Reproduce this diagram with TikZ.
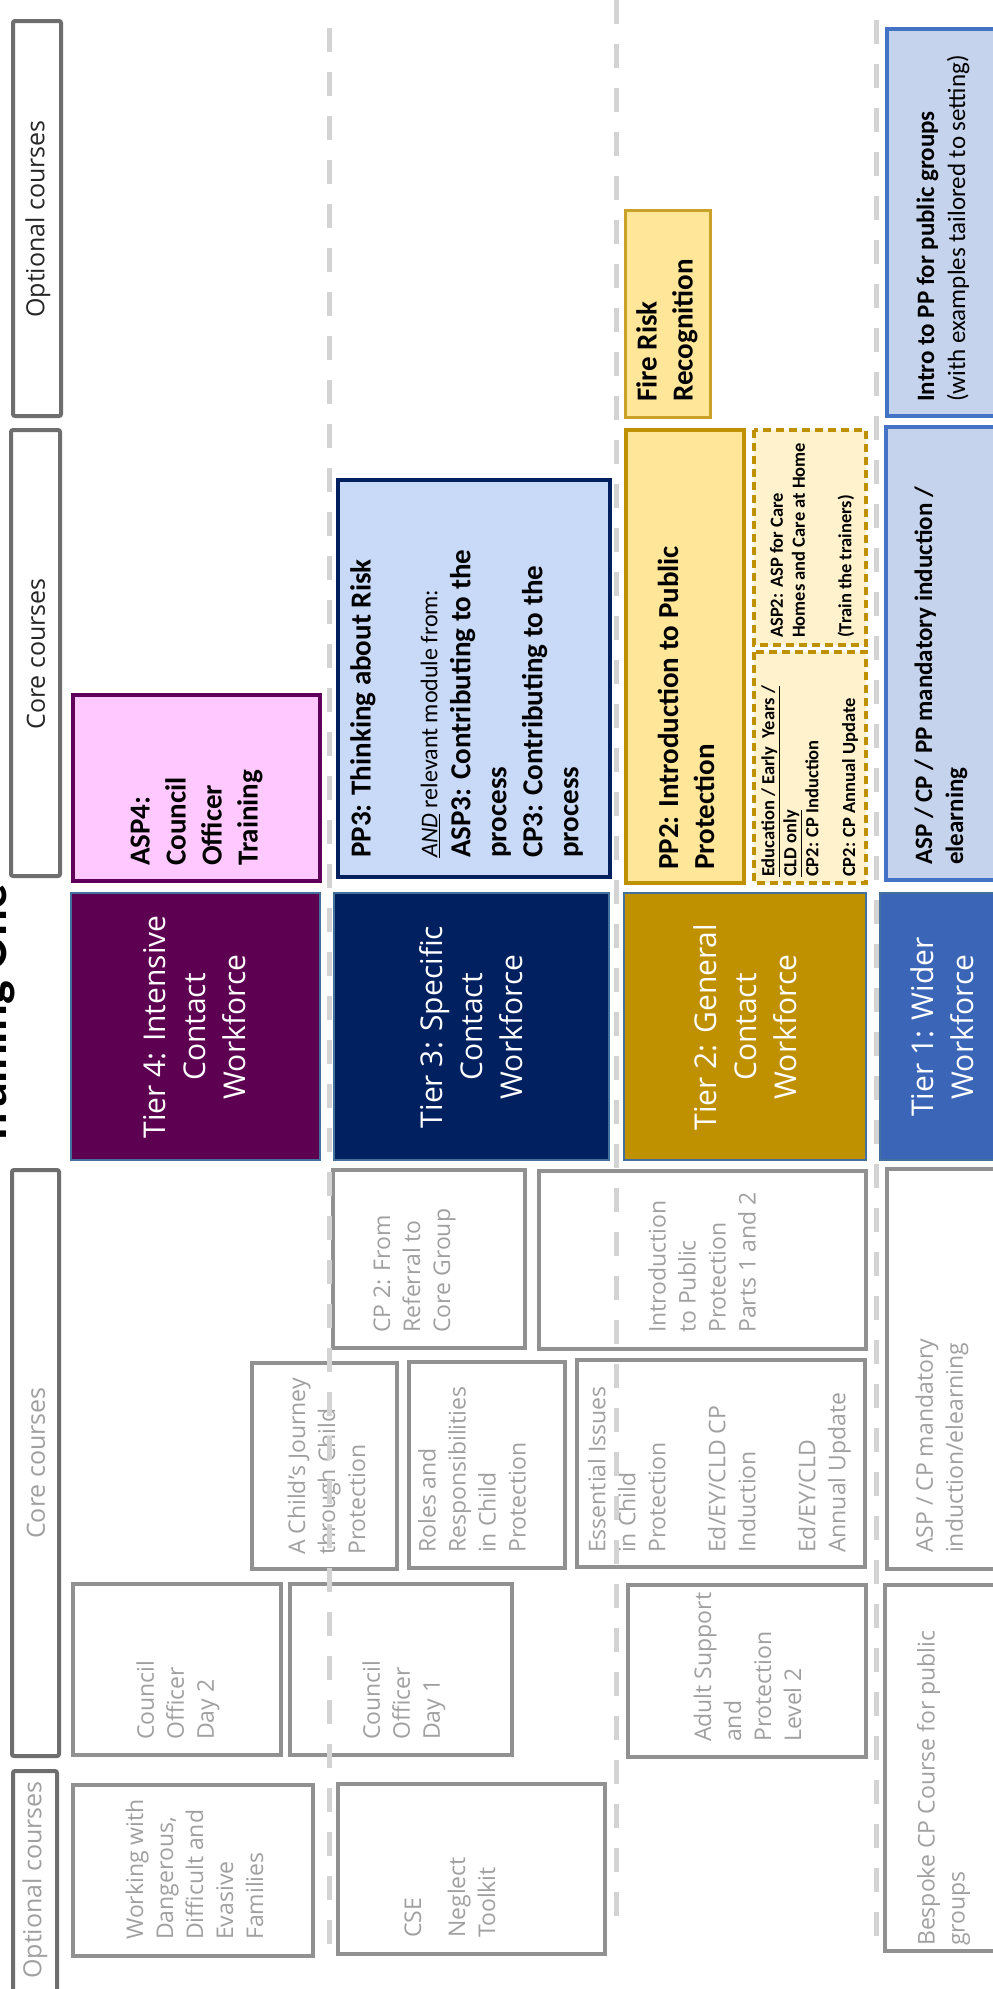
\documentclass[tikz,border=0pt]{standalone}
\usepackage{fontspec}
\setmainfont{Carlito}
\newfontfamily\osans{Open Sans}
\definecolor{hdrborder}{RGB}{110,110,110}
\definecolor{hdrtext}{RGB}{38,38,38}
\definecolor{graybord}{RGB}{145,145,145}
\definecolor{graytext}{RGB}{160,160,160}
\definecolor{dashgray}{RGB}{211,211,211}
\definecolor{tierfour}{RGB}{94,0,82}
\definecolor{tierthree}{RGB}{0,32,96}
\definecolor{tiertwo}{RGB}{191,144,0}
\definecolor{tierone}{RGB}{59,102,184}
\definecolor{tieredge}{RGB}{65,113,156}
\definecolor{pinkfill}{RGB}{255,200,255}
\definecolor{purpedge}{RGB}{96,0,90}
\definecolor{bluefill}{RGB}{201,218,248}
\definecolor{navyedge}{RGB}{0,32,96}
\definecolor{goldfill}{RGB}{255,230,153}
\definecolor{goldedge}{RGB}{191,144,0}
\definecolor{firedge}{RGB}{201,162,39}
\definecolor{paleyellow}{RGB}{255,242,204}
\definecolor{slatefill}{RGB}{197,211,236}
\definecolor{slateedge}{RGB}{68,114,196}
\tikzset{
  hdrbox/.style={draw=hdrborder, line width=4pt, fill=white, rounded corners=2pt},
  crsbox/.style={draw=graybord, line width=4pt, fill=white},
  tierbox/.style={draw=tieredge, line width=1.5pt},
  rtxt/.style={rotate=90, anchor=west, inner sep=0pt, align=left},
  ctxt/.style={rotate=90, anchor=center, inner sep=0pt, align=center},
  hdrfont/.style={font=\osans\fontsize{25}{30}\selectfont},
  grayfont/.style={font=\osans\fontsize{23}{30}\selectfont, text=graytext},
  tierfont/.style={font=\osans\fontsize{30}{40}\selectfont, text=white},
  boldfont/.style={font=\bfseries\fontsize{29}{36}\selectfont},
  midfont/.style={font=\fontsize{25}{31}\selectfont},
  smallfont/.style={font=\bfseries\fontsize{18.5}{22}\selectfont},
  dashline/.style={draw=dashgray, line width=5pt, dash pattern=on 24pt off 20pt},
  smalldash/.style={dash pattern=on 8pt off 5pt}
}
\begin{document}
\begin{tikzpicture}[x=1pt, y=-1pt]
\useasboundingbox (0,0) rectangle (993,1989);
\fill[white] (0,0) rectangle (993,1989);

% header column
\draw[hdrbox] (13,21) rectangle (61,416);
\node[ctxt, hdrfont, text=hdrtext] (hopt) at (38,219) {Optional courses};
\draw[hdrbox] (11,430) rectangle (60,876);
\node[ctxt, hdrfont, text=hdrtext] (hcore) at (36,654) {Core courses};
\node[rotate=90, anchor=base west, inner sep=0pt, font=\bfseries\fontsize{50}{60}\selectfont] (title) at (6,1147) {Training One};
\draw[hdrbox] (12,1170) rectangle (59,1756);
\node[ctxt, hdrfont, text=graytext] (hcoretwo) at (36,1463) {Core courses};
\draw[hdrbox] (13,1771) rectangle (57,2010);
\node[ctxt, hdrfont, text=graytext] (hopttwo) at (35,1880) {Optional courses};

% tiers
\draw[tierbox, fill=tierfour] (71,893) rectangle (320,1160);
\node[ctxt, tierfont] (tfour) at (195,1027) {Tier 4: Intensive\\Contact\\Workforce};
\draw[tierbox, fill=tierthree] (334,893) rectangle (609,1160);
\node[ctxt, tierfont] (tthree) at (471.5,1027) {Tier 3: Specific\\Contact\\Workforce};
\draw[tierbox, fill=tiertwo] (624,893) rectangle (866,1160);
\node[ctxt, tierfont] (ttwo) at (745.5,1027) {Tier 2: General\\Contact\\Workforce};
\draw[tierbox, fill=tierone] (880,893) rectangle (1005,1160);
\node[ctxt, tierfont] (tone) at (942,1027) {Tier 1: Wider\\Workforce};

% core courses (upper)
\draw[draw=purpedge, fill=pinkfill, line width=4pt] (73,695) rectangle (320,881);
\node[rtxt, boldfont] (aspfour) at (196.5,866) {ASP4:\\Council\\Officer\\Training};

\draw[draw=navyedge, fill=bluefill, line width=4pt] (338,480) rectangle (610,877);
\node[rtxt, boldfont] (ppthree) at (363,858) {PP3: Thinking about Risk};
\node[rtxt, font=\fontsize{24}{30}\selectfont] (andline) at (430,858) {\underline{\textit{AND}} relevant module from:};
\node[rtxt, boldfont] (aspthree) at (516.5,858) {ASP3: Contributing to the\\process\\CP3: Contributing to the\\process};

\draw[draw=goldedge, fill=goldfill, line width=4pt] (626,430) rectangle (744,883);
\node[rtxt, boldfont] (pptwo) at (686,870) {PP2: Introduction to Public\\Protection};

\draw[draw=goldedge, fill=paleyellow, line width=3.5pt, smalldash] (754,430) rectangle (866,645);
\node[rtxt, smallfont] (asptwo) at (787.5,638) {ASP2: ASP for Care\\Homes and Care at Home};
\node[rtxt, smallfont] (trainers) at (846,638) {(Train the trainers)};

\draw[draw=goldedge, fill=paleyellow, line width=3.5pt, smalldash] (754,652) rectangle (866,883);
\node[rtxt, smallfont] (edu) at (790,877) {\underline{Education / Early\ \ Years /}\\\underline{CLD only}\\CP2: CP Induction};
\node[rtxt, smallfont] (cpannual) at (850,877) {CP2: CP Annual Update};

\draw[draw=slateedge, fill=slatefill, line width=4pt] (886,427) rectangle (1005,880);
\node[rtxt, midfont, font=\bfseries\fontsize{25}{31}\selectfont] (aspcppp) at (941,865) {ASP / CP / PP mandatory induction /\\elearning};

% optional (upper)
\draw[draw=firedge, fill=goldfill, line width=3pt] (625,210) rectangle (710,417);
\node[rtxt, boldfont] (fire) at (667,402) {Fire Risk\\Recognition};
\draw[draw=slateedge, fill=slatefill, line width=4pt] (887,29) rectangle (1005,416);
\node[rtxt, midfont] (intro) at (943,402) {{\bfseries Intro to PP for public groups}\\(with examples tailored to setting)};

% core courses (lower, grey)
\draw[crsbox] (333,1170) rectangle (525,1348);
\node[rtxt, grayfont] (cpref) at (414.5,1333) {CP 2: From\\Referral to\\Core Group};
\draw[crsbox] (539,1171) rectangle (866,1349);
\node[rtxt, grayfont] (ippr) at (702,1333) {Introduction\\to Public\\Protection\\Parts 1 and 2};
\draw[crsbox] (252,1363) rectangle (397,1569);
\node[rtxt, grayfont] (child) at (326.5,1555) {A Child’s Journey\\through Child\\Protection};
\draw[crsbox] (409,1362) rectangle (565,1568);
\node[rtxt, grayfont] (roles) at (472,1553) {Roles and\\Responsibilities\\in Child\\Protection};
\draw[crsbox] (577,1360) rectangle (865,1567);
\node[rtxt, grayfont] (ess) at (719.5,1553) {Essential Issues\\in Child\\Protection\\[30pt]Ed/EY/CLD CP\\Induction\\[30pt]Ed/EY/CLD\\Annual Update};
\draw[crsbox] (887,1169) rectangle (1005,1569);
\node[rtxt, grayfont] (aspcpm) at (942,1553) {ASP / CP mandatory\\induction/elearning};
\draw[crsbox] (73,1584) rectangle (281,1755);
\node[rtxt, grayfont] (codtwo) at (178,1740) {Council\\Officer\\Day 2};
\draw[crsbox] (290,1584) rectangle (512,1755);
\node[rtxt, grayfont] (codone) at (404,1740) {Council\\Officer\\Day 1};
\draw[crsbox] (628,1585) rectangle (866,1757);
\node[rtxt, grayfont] (adult) at (747.5,1742) {Adult Support\\and\\Protection\\Level 2};

% optional (lower, grey)
\draw[crsbox] (73,1785) rectangle (313,1956);
\node[rtxt, grayfont] (work) at (194.5,1940) {Working with\\Dangerous,\\Difficult and\\Evasive\\Families};
\draw[crsbox] (338,1784) rectangle (605,1954);
\node[rtxt, grayfont] (cse) at (450,1938) {CSE\\[14pt]Neglect\\Toolkit};
\draw[crsbox] (885,1585) rectangle (1005,1951);
\node[rtxt, grayfont] (besp) at (943.5,1946) {Bespoke CP Course for public\\groups};

% dividers
\draw[dashline] (329,28) -- (329,1957);
\draw[dashline] (616,0) -- (616,1933);
\draw[dashline] (876,20) -- (876,1950);
\end{tikzpicture}
\end{document}
